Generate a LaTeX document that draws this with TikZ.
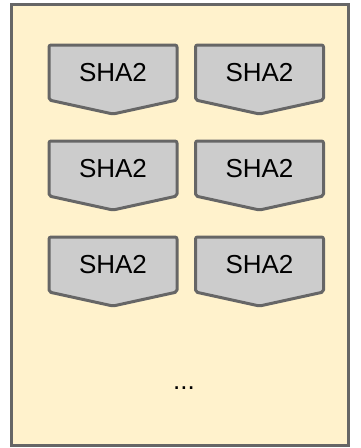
\documentclass[tikz,border=0pt]{standalone}
\usepackage{fontspec}
\setmainfont{Liberation Sans}
\usepackage{tikz}

\definecolor{panelbg}{HTML}{FFF2CC}
\definecolor{edgegray}{HTML}{666666}
\definecolor{hashgray}{HTML}{CCCCCC}

\begin{document}
\begin{tikzpicture}[
  x=1pt, y=-1pt,
  panel/.style={draw=edgegray, fill=panelbg, line width=3pt},
  hashshape/.style={draw=edgegray, fill=hashgray, line width=3pt, rounded corners=2pt, line join=round},
  hashlabel/.style={inner sep=0pt, font=\fontsize{26}{30}\selectfont},
  dotslabel/.style={inner sep=0pt, font=\fontsize{26}{30}\selectfont, anchor=base}
]
\useasboundingbox (0,0) rectangle (360,448);
\draw[panel] (11,4.5) rectangle (348.5,445.5);

% two columns of hash blocks, three rows
\foreach \r/\y in {1/72.5, 2/168.5, 3/264.5} {
  \foreach \c/\x in {1/113, 2/259.5} {
    \draw[hashshape] ({\x-64},{\y-27.5}) -- ({\x+64},{\y-27.5}) -- ({\x+64},{\y+27.5})
      -- (\x,{\y+41.5}) -- ({\x-64},{\y+27.5}) -- cycle;
    \node[hashlabel] (sha\r\c) at (\x,\y) {SHA2};
  }
}

\node[dotslabel] (more) at (184,389.5) {...};
\end{tikzpicture}
\end{document}
